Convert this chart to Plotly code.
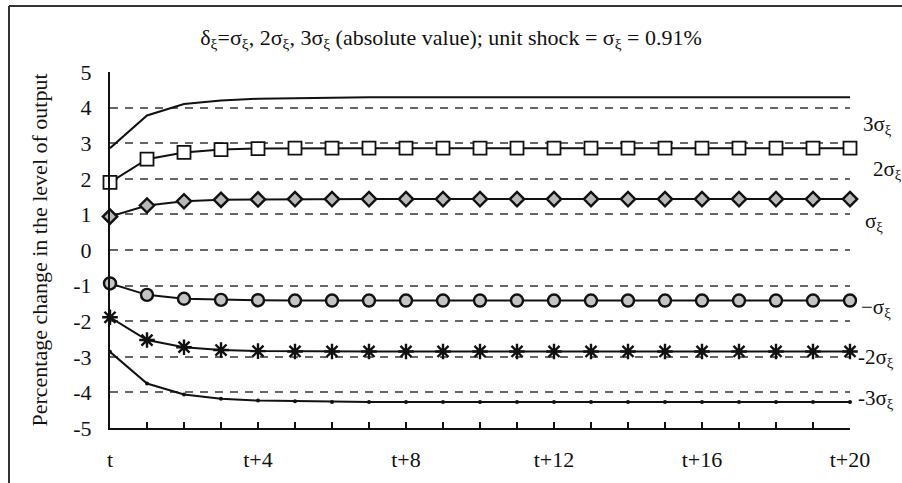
import plotly.graph_objects as go

# Periods after the shock: t, t+1, ..., t+20
periods = list(range(21))
tick_labels = ["t" if p == 0 else (f"t+{p}" if p % 4 == 0 else "") for p in periods]

# Percentage change in the level of output for each shock size
pos3 = [2.86, 3.78, 4.10, 4.20, 4.25, 4.27, 4.28] + [4.29] * 14
pos2 = [1.90, 2.55, 2.74, 2.82, 2.85, 2.86] + [2.86] * 15
pos1 = [0.94, 1.25, 1.37, 1.41, 1.42] + [1.43] * 16
neg1 = [-0.94, -1.26, -1.37, -1.40, -1.41] + [-1.42] * 16
neg2 = [-1.89, -2.53, -2.73, -2.81, -2.84] + [-2.85] * 16
neg3 = [-2.86, -3.75, -4.06, -4.18, -4.23, -4.25] + [-4.27] * 15

y_ticks = list(range(-5, 6))
y_tick_text = [str(v) for v in y_ticks]

SERIF = "Liberation Serif, Times New Roman, serif"
INK = "#111111"

# Plot area in pixels
L, R, T, B = 110, 52, 72, 55
W, H = 902, 483
PW, PH = W - L - R, H - T - B

fig = go.Figure()

series = [
    (pos3, dict(size=1, symbol="circle", color=INK), "lines"),
    (pos2, dict(size=13, symbol="square", color="white", line=dict(color=INK, width=1.8)), "lines+markers"),
    (pos1, dict(size=11, symbol="diamond", color="#b8b8b8", line=dict(color=INK, width=2.4)), "lines+markers"),
    (neg1, dict(size=12, symbol="circle", color="#c4c4c4", line=dict(color=INK, width=2.4)), "lines+markers"),
    (neg2, dict(size=13, symbol="asterisk-open", color=INK, line=dict(color=INK, width=2.4)), "lines+markers"),
    (neg3, dict(size=4, symbol="circle", color=INK), "lines+markers"),
]
for vals, marker, mode in series:
    fig.add_trace(go.Scatter(
        x=periods, y=vals, mode=mode,
        line=dict(color=INK, width=2),
        marker=marker, showlegend=False, cliponaxis=False,
    ))

# Series labels at the right end of each path (pixel x, data y)
labels = [
    ("3σ<sub>ξ</sub>", 861, 3.52),
    ("2σ<sub>ξ</sub>", 871, 2.25),
    ("σ<sub>ξ</sub>", 863, 0.80),
    ("\u2212σ<sub>ξ</sub>", 859, -1.62),
    ("-2σ<sub>ξ</sub>", 856, -3.02),
    ("-3σ<sub>ξ</sub>", 856, -4.18),
]
for text, px, y in labels:
    fig.add_annotation(x=(px - L) / PW, y=y, xref="paper", yref="y", text=text,
                       showarrow=False, xanchor="left", yanchor="middle",
                       font=dict(family=SERIF, size=21, color=INK))

# Outer frame: left and top edges only
fx0 = (9 - L) / PW
fx1 = (W - L) / PW
fy0 = -B / PH
fy1 = 1 + (T - 6) / PH
frame = dict(color="#333333", width=2)
fig.add_shape(type="line", xref="paper", yref="paper",
              x0=fx0, x1=fx0, y0=fy0, y1=fy1, line=frame, layer="below")
fig.add_shape(type="line", xref="paper", yref="paper",
              x0=fx0, x1=fx1, y0=fy1, y1=fy1, line=frame, layer="below")

fig.update_layout(
    width=W, height=H,
    margin=dict(l=L, r=R, t=T, b=B),
    paper_bgcolor="white", plot_bgcolor="white",
    font=dict(family=SERIF, color=INK),
    title=dict(
        text="δ<sub>ξ</sub>=σ<sub>ξ</sub>, 2σ<sub>ξ</sub>, 3σ<sub>ξ</sub> (absolute value); "
             "unit shock = σ<sub>ξ</sub> = 0.91%",
        x=0.5, xanchor="center", y=1 - 37 / H, yanchor="middle",
        font=dict(family=SERIF, size=22, color=INK),
    ),
    xaxis=dict(
        range=[0, 20], tickvals=periods, ticktext=tick_labels,
        ticks="inside", ticklen=6, tickwidth=1.5, tickcolor=INK,
        showgrid=False, zeroline=False,
        showline=True, linecolor=INK, linewidth=2,
        ticklabelstandoff=11,
        tickfont=dict(family=SERIF, size=22, color=INK),
    ),
    yaxis=dict(
        range=[-5, 5], tickvals=y_ticks, ticktext=y_tick_text,
        ticks="", showgrid=True, gridcolor="#666666", gridwidth=1.5,
        griddash="8px,7px", zeroline=False,
        showline=True, linecolor=INK, linewidth=2,
        ticklabelstandoff=12,
        tickfont=dict(family=SERIF, size=22, color=INK),
        title=dict(text="Percentage change in the level of output",
                   font=dict(family=SERIF, size=22, color=INK), standoff=20),
    ),
)

fig.write_html("out.html")
